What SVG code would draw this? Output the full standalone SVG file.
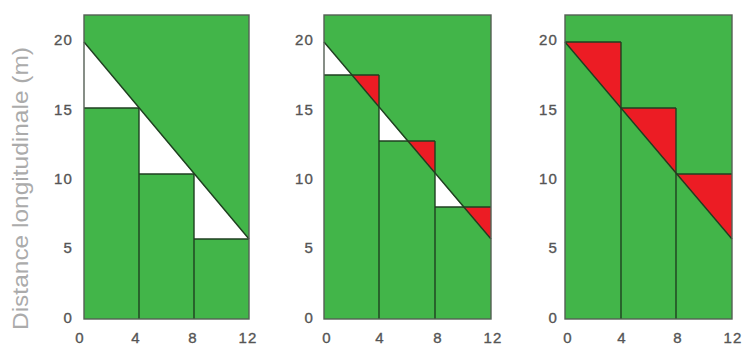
<svg xmlns="http://www.w3.org/2000/svg" width="743" height="349" viewBox="0 0 743 349">
<style>
.bg{fill:#fff}
.g{fill:#42b549}
.w{fill:#fff}
.r{fill:#ec1c24}
.ln{stroke:#1f3f20;stroke-width:1.4;fill:none}
.fr{stroke:#556055;stroke-width:1.4;fill:none}
.tk{font-family:"Liberation Sans",Arial,sans-serif;font-size:15px;fill:#555;stroke:#555;stroke-width:0.35;letter-spacing:1.2px}
.yt{text-anchor:end}
.xt{text-anchor:middle}
.title{font-family:"Liberation Sans",Arial,sans-serif;font-size:22px;fill:#ababab}
</style>
<rect class="bg" x="0" y="0" width="743" height="349"/>
<text class="title" transform="translate(28,188.5) rotate(-90)" text-anchor="middle" textLength="283" lengthAdjust="spacingAndGlyphs">Distance longitudinale (m)</text>

<g id="panel1">
<rect class="g" x="84" y="15" width="165" height="304"/>
<polygon class="w" points="84,42 139,108 84,108"/>
<polygon class="w" points="139,108 194,174 139,174"/>
<polygon class="w" points="194,174 249,239 194,239"/>
<g class="ln">
<line x1="84" y1="42" x2="249" y2="239"/>
<line x1="84" y1="108" x2="139" y2="108"/>
<line x1="139" y1="174" x2="194" y2="174"/>
<line x1="194" y1="239" x2="249" y2="239"/>
<line x1="139" y1="108" x2="139" y2="319"/>
<line x1="194" y1="174" x2="194" y2="319"/>
</g>
<rect class="fr" x="84" y="15" width="165" height="304"/>
<g class="tk yt">
<text x="73" y="45">20</text><text x="73" y="115">15</text><text x="73" y="184">10</text><text x="73" y="253">5</text><text x="73" y="323">0</text>
</g>
<g class="tk xt">
<text x="80" y="343">0</text><text x="136" y="343">4</text><text x="193" y="343">8</text><text x="248" y="343">12</text>
</g>
</g>

<g id="panel2">
<rect class="g" x="324" y="15" width="167" height="304"/>
<polygon class="w" points="324,42 352,75 324,75"/>
<polygon class="r" points="352,75 379,75 379,107"/>
<polygon class="w" points="379,107 407,141 379,141"/>
<polygon class="r" points="407,141 435,141 435,173"/>
<polygon class="w" points="435,173 463,207 435,207"/>
<polygon class="r" points="463,207 491,207 491,239"/>
<g class="ln">
<line x1="324" y1="42" x2="491" y2="239"/>
<line x1="324" y1="75" x2="379" y2="75"/>
<line x1="379" y1="141" x2="435" y2="141"/>
<line x1="435" y1="207" x2="491" y2="207"/>
<line x1="379" y1="75" x2="379" y2="319"/>
<line x1="435" y1="141" x2="435" y2="319"/>
</g>
<rect class="fr" x="324" y="15" width="167" height="304"/>
<g class="tk yt">
<text x="314" y="45">20</text><text x="314" y="115">15</text><text x="314" y="184">10</text><text x="314" y="253">5</text><text x="314" y="323">0</text>
</g>
<g class="tk xt">
<text x="327" y="343">0</text><text x="380" y="343">4</text><text x="438" y="343">8</text><text x="493" y="343">12</text>
</g>
</g>

<g id="panel3">
<rect class="g" x="565" y="15" width="167" height="304"/>
<polygon class="r" points="565,42 621,42 621,108"/>
<polygon class="r" points="621,108 676,108 676,174"/>
<polygon class="r" points="676,174 732,174 732,239"/>
<g class="ln">
<line x1="565" y1="42" x2="732" y2="239"/>
<line x1="565" y1="42" x2="621" y2="42"/>
<line x1="621" y1="108" x2="676" y2="108"/>
<line x1="676" y1="174" x2="732" y2="174"/>
<line x1="621" y1="42" x2="621" y2="319"/>
<line x1="676" y1="108" x2="676" y2="319"/>
</g>
<rect class="fr" x="565" y="15" width="167" height="304"/>
<g class="tk yt">
<text x="558" y="45">20</text><text x="558" y="115">15</text><text x="558" y="184">10</text><text x="558" y="253">5</text><text x="558" y="323">0</text>
</g>
<g class="tk xt">
<text x="568" y="343">0</text><text x="622" y="343">4</text><text x="678" y="343">8</text><text x="733" y="343">12</text>
</g>
</g>
</svg>
